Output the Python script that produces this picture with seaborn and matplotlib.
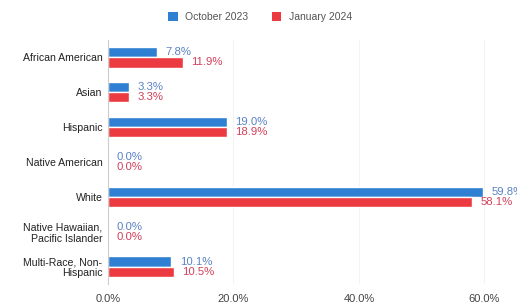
import matplotlib
matplotlib.use("Agg")
import matplotlib.pyplot as plt
import seaborn as sns
import pandas as pd

categories = ["African American", "Asian", "Hispanic", "Native American", "White",
              "Native Hawaiian,\nPacific Islander", "Multi-Race, Non-\nHispanic"]
oct_2023 = [7.8, 3.3, 19.0, 0.0, 59.8, 0.0, 10.1]
jan_2024 = [11.9, 3.3, 18.9, 0.0, 58.1, 0.0, 10.5]
series = ["October 2023", "January 2024"]
x_ticks = [0, 20, 40, 60]
x_tick_labels = ["0.0%", "20.0%", "40.0%", "60.0%"]

df = pd.DataFrame({
    "category": categories * 2,
    "value": oct_2023 + jan_2024,
    "series": [series[0]] * len(categories) + [series[1]] * len(categories),
})

sns.set_theme(style="white")
plt.rcParams["font.family"] = ["Liberation Sans", "DejaVu Sans"]

bar_colors = ["#2f7fd3", "#ec3b40"]
label_colors = ["#5a82c4", "#d2405a"]

fig = plt.figure(figsize=(5.17, 3.06), dpi=100)
ax = fig.add_axes([108 / 517, 1 - 284 / 306, 1 - 108 / 517, (284 - 40) / 306])

sns.barplot(data=df, y="category", x="value", hue="series", orient="h",
            palette=bar_colors, width=0.58, ax=ax, legend=False, saturation=1)

ax.set_xlim(0, 65.2)
ax.set_ylim(len(categories) - 0.5, -0.5)
ax.set_xticks(x_ticks)
ax.set_xticklabels(x_tick_labels, fontsize=8, color="#444444")
ax.tick_params(axis="x", length=0, pad=7)
ax.tick_params(axis="y", length=0, pad=4)
ax.set_yticks(range(len(categories)))
ax.set_yticklabels(categories, fontsize=7.6, color="#222222", linespacing=1.1)
ax.set_xlabel("")
ax.set_ylabel("")
for s in ["top", "right", "bottom"]:
    ax.spines[s].set_visible(False)
ax.spines["left"].set_color("#cccccc")
ax.spines["left"].set_linewidth(0.8)
for xv in x_ticks[1:]:
    ax.axvline(xv, color="#f3f3f3", lw=0.8, zorder=0)

for i, cont in enumerate(ax.containers):
    vals = oct_2023 if i == 0 else jan_2024
    ax.bar_label(cont, labels=[f"{v:.1f}%" for v in vals], padding=6,
                 fontsize=8.2, color=label_colors[i], clip_on=False)

# legend
from matplotlib.patches import Patch
handles = [Patch(facecolor=c, edgecolor="none") for c in bar_colors]
fig.legend(handles, series, loc="center", bbox_to_anchor=(0.503, 1 - 17 / 306),
           ncol=2, frameon=False, fontsize=7.5, handlelength=0.9, handleheight=0.9,
           handletextpad=0.7, columnspacing=2.3, labelcolor="#555555")

fig.savefig("out.png", dpi=100)
